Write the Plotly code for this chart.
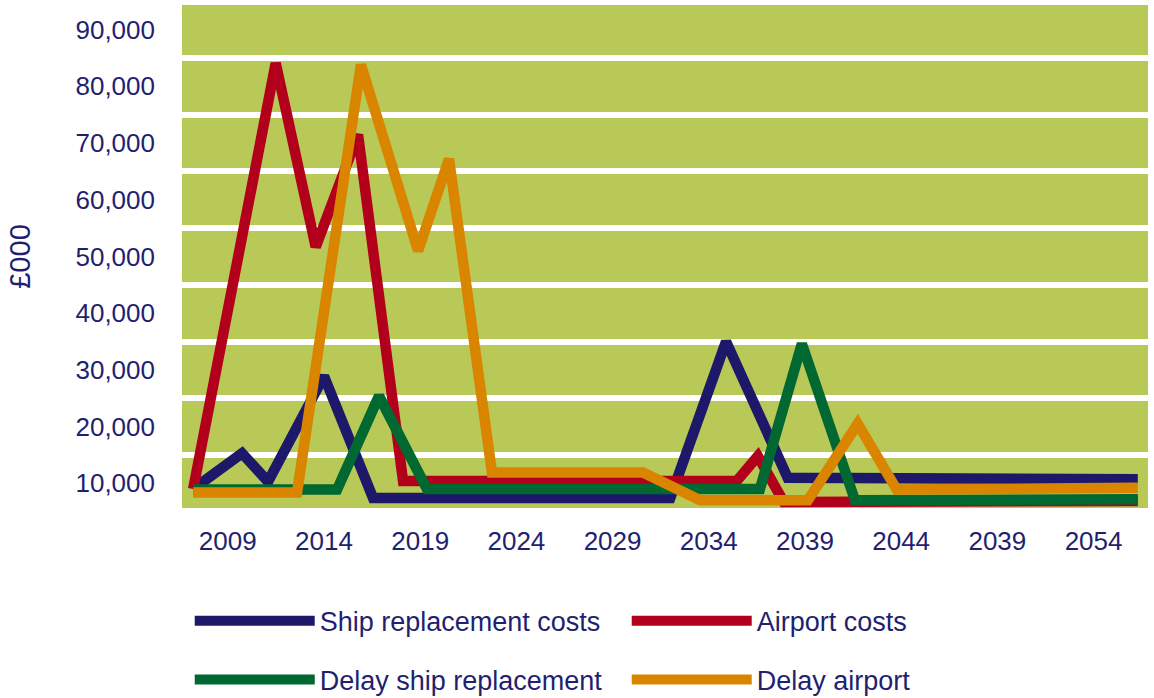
import plotly.graph_objects as go

# ---- data ----
ship_years = [2007.2, 2009.74, 2011.09, 2014.0, 2016.55, 2032.0, 2034.9, 2038.1, 2056.3]
ship_vals = [9000, 15300, 10300, 28900, 7400, 7400, 35000, 11000, 10700]

airport_years = [2007.2, 2011.49, 2013.57, 2015.77, 2018.11, 2035.45, 2036.55, 2037.9, 2056.3]
airport_vals = [9000, 84100, 51700, 71500, 10400, 10400, 14800, 6700, 6900]

delay_ship_years = [2007.2, 2014.68, 2016.86, 2019.35, 2036.66, 2038.84, 2041.6, 2056.3]
delay_ship_vals = [8900, 8900, 25400, 9000, 9000, 34600, 7000, 7200]

delay_airport_years = [2007.2, 2012.6, 2015.92, 2018.89, 2020.5, 2022.73, 2030.58,
                       2033.55, 2039.15, 2041.74, 2043.77, 2056.3]
delay_airport_vals = [8400, 8400, 83800, 51000, 67200, 11900, 11900,
                      7000, 7000, 20500, 8900, 9200]

x_tickvals = [2009, 2014, 2019, 2024, 2029, 2034, 2039, 2044, 2049, 2054]
x_ticktext = ["2009", "2014", "2019", "2024", "2029", "2034", "2039", "2044", "2039", "2054"]
y_tickvals = [10000, 20000, 30000, 40000, 50000, 60000, 70000, 80000, 90000]

NAVY = "#1d1869"
RED = "#b2001c"
GREEN = "#006830"
ORANGE = "#da8500"
BG = "#b8c957"
TEXT = "#231f70"
FONT = "Liberation Sans, Arial, Helvetica, sans-serif"

fig = go.Figure()
fig.add_trace(go.Scatter(x=ship_years, y=ship_vals, mode="lines", name="Ship replacement costs",
                         line=dict(color=NAVY, width=10.5), legend="legend"))
fig.add_trace(go.Scatter(x=airport_years, y=airport_vals, mode="lines", name="Airport costs",
                         line=dict(color=RED, width=10.5), legend="legend"))
fig.add_trace(go.Scatter(x=delay_ship_years, y=delay_ship_vals, mode="lines", name="Delay ship replacement",
                         line=dict(color=GREEN, width=10.5), legend="legend2"))
fig.add_trace(go.Scatter(x=delay_airport_years, y=delay_airport_vals, mode="lines", name="Delay airport",
                         line=dict(color=ORANGE, width=10.5), legend="legend2"))

legend_common = dict(orientation="h", xanchor="left", yanchor="middle", x=0.008,
                     yref="container",
                     font=dict(family=FONT, size=27, color=TEXT),
                     itemwidth=120, entrywidth=302, entrywidthmode="pixels",
                     bgcolor="rgba(0,0,0,0)", traceorder="normal", itemclick=False)

fig.update_layout(
    width=1154, height=698,
    margin=dict(l=182, r=6, t=5, b=190, autoexpand=False),
    paper_bgcolor="white",
    plot_bgcolor=BG,
    font=dict(family=FONT, size=26, color=TEXT),
    showlegend=True,
    legend=dict(**legend_common, y=0.110),
    legend2=dict(**legend_common, y=0.026),
    xaxis=dict(range=[2006.62, 2056.83], tickvals=x_tickvals, ticktext=x_ticktext,
               showgrid=False, zeroline=False, showline=False, ticks="",
               tickfont=dict(family=FONT, size=26, color=TEXT), ticklabelstandoff=15),
    yaxis=dict(range=[5650, 94350], tickvals=y_tickvals, tickformat=",",
               showgrid=False, zeroline=False, showline=False, ticks="",
               tickfont=dict(family=FONT, size=26, color=TEXT), ticklabelstandoff=26,
               minor=dict(tick0=5000, dtick=10000, showgrid=True, gridcolor="white", gridwidth=6, ticks=""),
               title=dict(text="£000", font=dict(family=FONT, size=29, color=TEXT), standoff=36)),
)

fig.write_html("out.html")
